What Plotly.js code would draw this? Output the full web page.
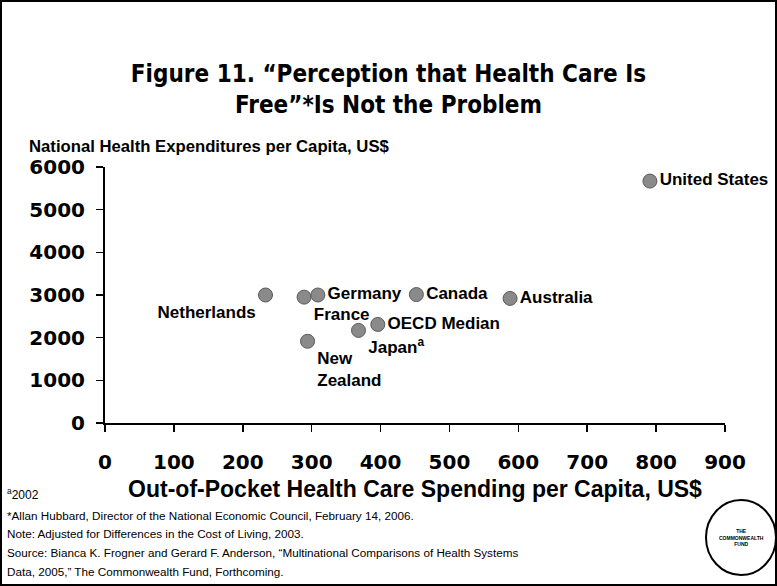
<!DOCTYPE html>
<html>
<head>
<meta charset="utf-8">
<script src="https://cdn.plot.ly/plotly-3.0.1.min.js"></script>
<style>
  html, body { margin: 0; padding: 0; background: #ffffff; }
  #chart { width: 777px; height: 586px; }
</style>
</head>
<body>
<div id="chart"></div>
<script>
// ---- data ----
const countries = ["Netherlands", "France", "Germany", "Canada", "Australia", "United States", "OECD Median", "Japan", "New Zealand"];
const pointLabels = ["Netherlands", "France", "Germany", "Canada", "Australia", "United States", "OECD Median", "Japan<sup>a</sup>", "New<br>Zealand"];
const outOfPocket = [233, 289, 309, 452, 588, 791, 396, 368, 294];
const nationalExpenditure = [3000, 2950, 3000, 3010, 2920, 5670, 2310, 2170, 1915];
const labelPositions = ["bottom left", "bottom right", "middle right", "middle right", "middle right", "middle right", "middle right", "bottom right", "bottom right"];
const xTicks = [0, 100, 200, 300, 400, 500, 600, 700, 800, 900];
const yTicks = [0, 1000, 2000, 3000, 4000, 5000, 6000];
const footnotes = [
  "*Allan Hubbard, Director of the National Economic Council, February 14, 2006.",
  "Note: Adjusted for Differences in the Cost of Living, 2003.",
  "Source: Bianca K. Frogner and Gerard F. Anderson, \u201cMultinational Comparisons of Health Systems",
  "Data, 2005,\u201d The Commonwealth Fund, Forthcoming."
];

// ---- layout geometry ----
const W = 777, H = 586;
const M = { l: 105, r: 52, t: 167, b: 163 };
const pw = W - M.l - M.r, ph = H - M.t - M.b;
const px = v => (v - M.l) / pw;          // pixel x -> paper
const py = v => (H - M.b - v) / ph;      // pixel y -> paper

const FONT = "Liberation Sans, Arial, sans-serif";
const HEAVY = "DejaVu Sans, Liberation Sans, sans-serif";

const trace = {
  type: "scatter",
  mode: "markers+text",
  x: outOfPocket,
  y: nationalExpenditure,
  text: pointLabels,
  customdata: countries,
  textposition: labelPositions,
  cliponaxis: false,
  marker: { size: 14, color: "#8a8a8a", line: { color: "#5a5a5a", width: 1 } },
  textfont: { family: FONT, size: 17, color: "#000", weight: "bold" },
  hoverinfo: "skip",
  showlegend: false
};

const annotations = [
  {
    xref: "paper", yref: "paper", x: px(27), y: py(146), xanchor: "left", yanchor: "middle",
    text: "National Health Expenditures per Capita, US$", showarrow: false,
    font: { family: FONT, size: 16.7, color: "#000", weight: "bold" }
  },
  {
    xref: "paper", yref: "paper", x: px(5), y: py(494), xanchor: "left", yanchor: "middle",
    text: "<sup>a</sup>2002", showarrow: false,
    font: { family: FONT, size: 12, color: "#000" }
  },
  {
    xref: "paper", yref: "paper", x: px(741), y: py(537), xanchor: "center", yanchor: "middle",
    text: "THE<br>COMMONWEALTH<br>FUND", showarrow: false,
    font: { family: FONT, size: 5, color: "#000", weight: "bold" }
  }
];
footnotes.forEach((t, i) => {
  annotations.push({
    xref: "paper", yref: "paper", x: px(5), y: py(515 + i * 18.7), xanchor: "left", yanchor: "middle",
    text: t, showarrow: false, align: "left",
    font: { family: FONT, size: 11.7, color: "#000" }
  });
});

const layout = {
  width: W, height: H,
  margin: M,
  paper_bgcolor: "#ffffff",
  plot_bgcolor: "#ffffff",
  title: {
    text: "Figure 11. \u201cPerception that Health Care Is<br>Free\u201d*Is Not the Problem",
    xref: "container", x: 0.5, xanchor: "center",
    yref: "container", y: 1 - 82 / H, yanchor: "middle",
    font: { family: "DejaVu Sans Condensed, Liberation Sans Narrow, Liberation Sans, sans-serif", size: 24, color: "#000", weight: "bold" }
  },
  xaxis: {
    range: [0, 900], tickvals: xTicks, ticktext: xTicks.map(String),
    showgrid: false, zeroline: false,
    showline: true, linecolor: "#000", linewidth: 2,
    ticks: "outside", ticklen: 7, tickwidth: 1.5, tickcolor: "#000",
    ticklabelstandoff: 13,
    tickfont: { family: HEAVY, size: 20, color: "#000", weight: "bold" },
    title: {
      text: "Out-of-Pocket Health Care Spending per Capita, US$",
      standoff: 8,
      font: { family: FONT, size: 23, color: "#000", weight: "bold" }
    },
    fixedrange: true
  },
  yaxis: {
    range: [0, 6000], tickvals: yTicks, ticktext: yTicks.map(String),
    showgrid: false, zeroline: false,
    showline: true, linecolor: "#000", linewidth: 2,
    ticks: "outside", ticklen: 7, tickwidth: 1.5, tickcolor: "#000",
    ticklabelstandoff: 7,
    tickfont: { family: HEAVY, size: 20, color: "#000", weight: "bold" },
    fixedrange: true
  },
  annotations: annotations,
  shapes: [
    {
      type: "rect", xref: "paper", yref: "paper",
      x0: px(1), x1: px(776), y0: py(1), y1: py(585),
      line: { color: "#000", width: 2 }, fillcolor: "rgba(0,0,0,0)", layer: "below"
    },
    {
      type: "circle", xref: "paper", yref: "paper",
      x0: px(706), x1: px(776), y0: py(500), y1: py(575),
      line: { color: "#000", width: 2 }, fillcolor: "rgba(0,0,0,0)"
    }
  ]
};

Plotly.newPlot("chart", [trace], layout, { staticPlot: true, displayModeBar: false });
</script>
</body>
</html>
